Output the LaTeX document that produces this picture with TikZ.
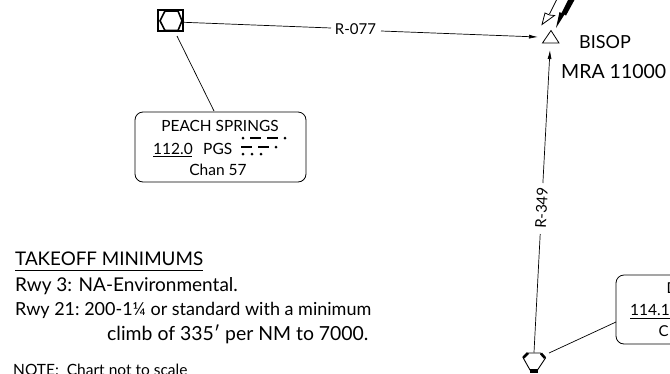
\documentclass[tikz,border=0pt]{standalone}
\usepackage{fontspec}
\setmainfont{Lato}
\usetikzlibrary{arrows.meta}
\newcommand{\fs}[1]{\fontsize{#1}{#1}\selectfont}
\tikzset{
  chartline/.style={draw=black,line width=0.7pt},
  leader/.style={chartline,-{Latex[length=9pt,width=4pt]}},
  infobox/.style={draw=black,line width=0.8pt,rounded corners=8pt,inner sep=0pt},
  label/.style={inner sep=0pt,anchor=base west},
  boxtext/.style={inner sep=0pt,font=\fs{15},anchor=base},
  morse/.style={line width=2.1pt},
  morsedot/.style={fill=black,circle,inner sep=0pt,minimum size=3pt},
  thickseg/.style={line width=2.6pt}
}
\begin{document}
\begin{tikzpicture}[x=1pt,y=-1pt]
\useasboundingbox (0,0) rectangle (670,373);
\clip (0,0) rectangle (670,373);
% Peach Springs VORTAC
\node[draw=black,line width=2pt,minimum width=25.5pt,minimum height=21pt,inner sep=0pt] (pgs) at (170.3,20.8) {};
\draw[line width=1.6pt] (160,20.8) -- (165,11) -- (178,11) -- (182,20.8) -- (178,30.5) -- (165,30.5) -- cycle;
% Peach box
\node[infobox,minimum width=171pt,minimum height=70pt] (pgsbox) at (220.5,147) {};
\draw[chartline] (177,36) -- (214,111);
\coordinate (p1) at (331,28);
\coordinate (p2) at (381,31);
\node[inner sep=0pt,font=\fs{15}] (r077) at (355.5,29.5) {R-077};
\node[boxtext,font=\fs{15.4}] (pname) at (220,131.5) {PEACH SPRINGS};
\node[boxtext,font=\fs{15.5},anchor=base west] (pfreq) at (153,154) {112.0};
\draw[line width=0.7pt] (153,156) -- (192,156);
\node[boxtext,font=\fs{15.5},anchor=base west] (pid) at (203,154) {PGS};
\node[boxtext,font=\fs{15.5}] (pchan) at (218,175) {Chan 57};
% Morse
\foreach \x/\y in {243/138,285/138,276/147,243/154,252/154,261/154}
  \node[morsedot] at (\x,\y) {};
\draw[morse] (250,138) -- (261,138) (267,138) -- (278,138) (241,147) -- (252,147) (258,147) -- (269,147);
% BISOP
\draw[line width=0.8pt] (542.5,43) -- (559,43) -- (551,30.5) -- cycle;
\coordinate (bisopW) at (538,37);
\coordinate (bisopS) at (550,50);
\node[label,font=\fs{18}] (bname) at (579,48) {BISOP};
\node[label,font=\fs{19.5}] (bmra) at (561,78) {MRA 11000};
% R-077 connector
\draw[chartline] (pgs.east) ++(0,1.5) -- (p1);
\draw[leader] (p2) -- (bisopW);
% Feeder arrows
\draw[line width=0.7pt] (557,-1) -- (549.5,14);
\draw[line width=0.8pt,fill=white] (542,24.5) -- (545,13) -- (549.5,15) -- (554.5,15.5) -- cycle;
\fill[black] (575,-1) -- (566,15.5) -- (564.5,14.5) -- (556,28) -- (559.5,12) -- (561.5,13) -- (568.5,-1) -- cycle;
% Bottom navaid
\coordinate (vor) at (534,352.5);
\draw[line width=0.9pt] (523,357.5) -- (528.5,353) -- (540.5,353) -- (545.5,358) -- (537.5,370) -- (530,370) -- cycle;
\draw[thickseg] (523.5,357.5) -- (528,353);
\draw[thickseg] (541,353.5) -- (545,358);
\draw[line width=3.2pt] (529.5,371) -- (537.5,371);
% R-349
\coordinate (r1) at (540.2,234);
\coordinate (r2) at (542.9,183);
\node[inner sep=0pt,rotate=87,font=\fs{15}] (r349) at (541.5,208) {R-349};
\draw[chartline] (vor) -- (r1);
\draw[leader] (r2) -- (bisopS);
% Right box
\node[infobox,minimum width=120pt,minimum height=69pt] (dbox) at (676,309.5) {};
\draw[chartline] (549,353) -- (616,322);
\node[boxtext,anchor=base west] (dname) at (666.5,293) {D};
\node[boxtext,font=\fs{15.5},anchor=base west] (dfreq) at (630,315) {114.1};
\draw[line width=0.7pt] (630,318) -- (670,318);
\node[boxtext,anchor=base west] (dchan) at (658.5,336) {C};
% Takeoff
\node[label,font=\fs{18.8}] (t1) at (15,265) {TAKEOFF MINIMUMS};
\draw[line width=0.8pt] (15,270) -- (203,270);
\node[label,font=\fs{19}] (t2) at (15,291) {Rwy 3: NA-Environmental.};
\node[label,font=\fs{18}] (t3) at (15,315) {Rwy 21:\ 200-1¼ or standard with a minimum};
\node[label,font=\fs{19.4}] (t4) at (107,340) {climb of 335′ per NM to 7000.};
\node[label,font=\fs{15.5}] (t5) at (13,375) {NOTE:\ \ Chart not to scale};
\end{tikzpicture}
\end{document}
